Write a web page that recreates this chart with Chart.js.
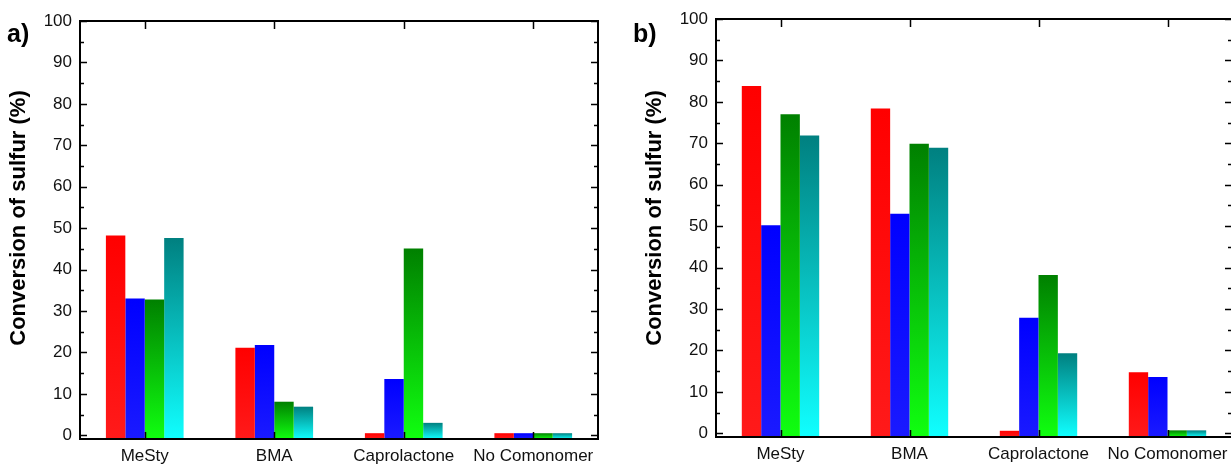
<!DOCTYPE html>
<html lang="en">
<head>
    <meta charset="UTF-8">
    <title>Conversion of sulfur</title>
    <script src="https://cdn.jsdelivr.net/npm/chart.js"></script>
    <style>
        body {
            margin: 0;
            background: #fff;
            width: 1231px;
            height: 464px;
            overflow: hidden;
            position: relative;
            font-family: "Liberation Sans", Arial, sans-serif;
        }
        .panel { position: absolute; top: 0; }
        .tag {
            position: absolute;
            top: 21px;
            font: bold 25px/24px "Liberation Sans", Arial, sans-serif;
            color: #000;
        }
    </style>
</head>
<body>
    <div class="panel" style="left:0;width:610px;height:464px"><canvas id="chartA" width="610" height="464"></canvas></div>
    <div class="panel" style="left:610px;width:630px;height:464px"><canvas id="chartB" width="630" height="464"></canvas></div>
    <div class="tag" style="left:7px">a)</div>
    <div class="tag" style="left:633px">b)</div>
    <script>
        const categories = ['MeSty', 'BMA', 'Caprolactone', 'No Comonomer'];

        // panel a
        const aRed   = [48.2, 21.1, 0.5, 0.5];
        const aBlue  = [33.0, 21.8, 13.6, 0.5];
        const aGreen = [32.8, 8.1, 45.1, 0.5];
        const aTeal  = [47.6, 6.9, 3.0, 0.5];

        // panel b
        const bRed   = [83.8, 78.4, 0.6, 14.7];
        const bBlue  = [50.2, 53.0, 27.9, 13.6];
        const bGreen = [77.0, 69.9, 38.2, 0.7];
        const bTeal  = [71.9, 68.9, 19.3, 0.7];

        const yTickValues = [0, 5, 10, 15, 20, 25, 30, 35, 40, 45, 50, 55, 60, 65, 70, 75, 80, 85, 90, 95, 100];
        const yMin = -0.9;
        const yMax = 100;
        const yTitle = 'Conversion of sulfur (%)';

        // top / bottom colour of each bar's vertical gradient
        const palette = [
            ['#ff0000', '#ff1a1a'],
            ['#0000ff', '#1a1aff'],
            ['#008000', '#10ff10'],
            ['#008080', '#10ffff']
        ];

        function barGrad(top, bottom) {
            return function(c) {
                const ys = c.chart.scales.y;
                if (!ys || c.raw === undefined) return top;
                const y0 = ys.getPixelForValue(c.raw);
                const y1 = ys.getPixelForValue(yMin);
                if (!isFinite(y0) || !isFinite(y1) || y0 === y1) return top;
                const g = c.chart.ctx.createLinearGradient(0, y0, 0, y1);
                g.addColorStop(0, top);
                g.addColorStop(1, bottom);
                return g;
            };
        }

        // box frame with inward ticks + the rotated y title, like the original plot
        const frameTicks = {
            id: 'frameTicks',
            afterDatasetsDraw(chart, args, opts) {
                const {ctx, chartArea: a, scales: {x, y}} = chart;
                ctx.save();
                ctx.strokeStyle = '#000';
                ctx.lineWidth = 2;
                ctx.strokeRect(a.left, a.top, a.right - a.left, a.bottom - a.top);
                ctx.lineWidth = 1.5;
                ctx.beginPath();
                y.ticks.forEach(t => {
                    const py = Math.round(y.getPixelForValue(t.value)) + 0.5;
                    const len = t.value % 10 === 0 ? 7 : 4;
                    ctx.moveTo(a.left, py); ctx.lineTo(a.left + len, py);
                    ctx.moveTo(a.right, py); ctx.lineTo(a.right - len, py);
                });
                x.ticks.forEach((t, i) => {
                    const px = Math.round(x.getPixelForTick(i)) + 0.5;
                    ctx.moveTo(px, a.top); ctx.lineTo(px, a.top + 8);
                    ctx.moveTo(px, a.bottom); ctx.lineTo(px, a.bottom - 7);
                });
                ctx.stroke();

                ctx.translate(opts.titleX, opts.titleY);
                ctx.rotate(-Math.PI / 2);
                ctx.fillStyle = '#000';
                ctx.font = 'bold 22px "Liberation Sans", Arial, sans-serif';
                ctx.textAlign = 'center';
                ctx.textBaseline = 'middle';
                ctx.fillText(yTitle, 0, 0);
                ctx.restore();
            }
        };

        function makeChart(id, series, lay) {
            const ctx = document.getElementById(id).getContext('2d');
            return new Chart(ctx, {
                type: 'bar',
                data: {
                    labels: categories,
                    datasets: series.map((d, i) => ({
                        data: d,
                        base: yMin,
                        backgroundColor: barGrad(palette[i][0], palette[i][1]),
                        borderWidth: 0,
                        barPercentage: 1.0,
                        categoryPercentage: 0.6
                    }))
                },
                options: {
                    responsive: false,
                    animation: false,
                    layout: { padding: { top: lay.top, right: lay.right, left: 0, bottom: 0 } },
                    plugins: {
                        legend: { display: false },
                        tooltip: { enabled: false },
                        frameTicks: { titleX: lay.titleX, titleY: 218 }
                    },
                    scales: {
                        x: {
                            grid: { display: false, drawTicks: false },
                            border: { display: false },
                            ticks: {
                                padding: 7,
                                color: '#111',
                                maxRotation: 0,
                                autoSkip: false,
                                font: { family: '"Liberation Sans", Arial, sans-serif', size: 17 }
                            },
                            afterFit: s => { s.height = lay.xHeight; }
                        },
                        y: {
                            min: yMin,
                            max: yMax,
                            grid: { display: false, drawTicks: false },
                            border: { display: false },
                            afterBuildTicks: s => { s.ticks = yTickValues.map(v => ({ value: v })); },
                            ticks: {
                                padding: 8,
                                color: '#111',
                                autoSkip: false,
                                font: { family: '"Liberation Sans", Arial, sans-serif', size: 17 },
                                callback: v => (v % 10 === 0 ? v : '')
                            },
                            afterFit: s => { s.width = lay.yWidth; }
                        }
                    }
                },
                plugins: [frameTicks]
            });
        }

        makeChart('chartA', [aRed, aBlue, aGreen, aTeal], { top: 21, right: 12, xHeight: 25, yWidth: 80, titleX: 19 });
        makeChart('chartB', [bRed, bBlue, bGreen, bTeal], { top: 19, right: 8, xHeight: 27, yWidth: 106, titleX: 45 });
    </script>
</body>
</html>
